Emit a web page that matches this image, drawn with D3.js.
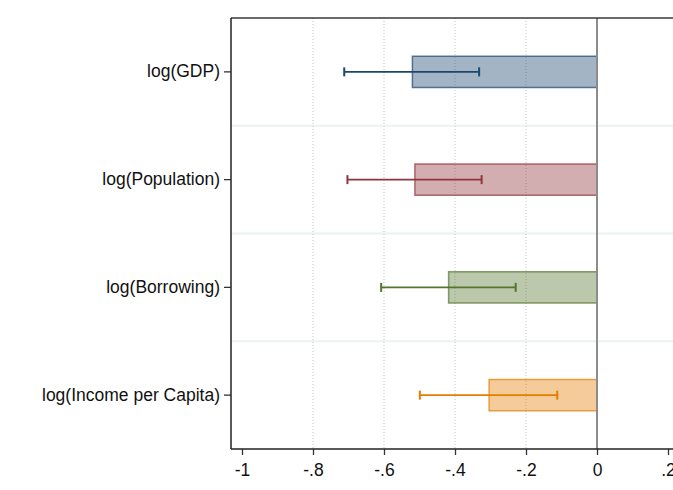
<!DOCTYPE html>
<html>
<head>
<meta charset="utf-8">
<script src="https://cdn.jsdelivr.net/npm/d3@7/dist/d3.min.js"></script>
<style>
  html, body { margin: 0; padding: 0; background: #fff; }
  svg { display: block; font-family: Arial, "Liberation Sans", sans-serif; }
</style>
</head>
<body>
<svg id="chart" width="673" height="490"></svg>
<script>
// Coefficient estimates with 95% confidence intervals
const categories = ["log(GDP)", "log(Population)", "log(Borrowing)", "log(Income per Capita)"];
const estimates  = [-0.520, -0.513, -0.418, -0.304];
const ciLower    = [-0.712, -0.703, -0.608, -0.499];
const ciUpper    = [-0.332, -0.325, -0.229, -0.112];
const colors     = ["#1a476f", "#90353b", "#55752f", "#e37e00"];
const xTicks     = [-1, -0.8, -0.6, -0.4, -0.2, 0, 0.2];
const gridTicks  = [-0.8, -0.6, -0.4, -0.2];

const svg = d3.select("#chart");
const plot = { left: 231, top: 18, bottom: 449, right: 720 };

const x = d3.scaleLinear().domain([-1, 0.2]).range([242, 668]);
const y = d3.scaleBand().domain(categories).range([plot.top, plot.bottom]).padding(0);
const barH = y.bandwidth() * 0.29;

const fmt = v => v === 0 ? "0" : String(v).replace("0.", ".");

// Light separators between categories
svg.append("g").selectAll("line")
  .data(categories.slice(1))
  .join("line")
  .attr("x1", plot.left).attr("x2", plot.right)
  .attr("y1", d => y(d)).attr("y2", d => y(d))
  .attr("stroke", "#eaf2f3").attr("stroke-width", 2);

// Dotted vertical gridlines
svg.append("g").selectAll("line")
  .data(gridTicks)
  .join("line")
  .attr("x1", d => x(d)).attr("x2", d => x(d))
  .attr("y1", plot.top).attr("y2", plot.bottom)
  .attr("stroke", "#c4c4c4").attr("stroke-width", 1)
  .attr("stroke-dasharray", "1,2");

// Bars
const rows = categories.map((c, i) => ({
  cat: c, est: estimates[i], lo: ciLower[i], hi: ciUpper[i], color: colors[i]
}));

svg.append("g").selectAll("rect")
  .data(rows)
  .join("rect")
  .attr("x", d => x(d.est))
  .attr("width", d => x(0) - x(d.est))
  .attr("y", d => y(d.cat) + y.bandwidth() / 2 - barH / 2)
  .attr("height", barH)
  .attr("fill", d => d.color).attr("fill-opacity", 0.4)
  .attr("stroke", d => d.color).attr("stroke-opacity", 0.7)
  .attr("stroke-width", 1.5);

// Confidence intervals
const ci = svg.append("g").selectAll("g")
  .data(rows)
  .join("g")
  .attr("stroke", d => d.color)
  .attr("stroke-width", 1.6);

ci.append("line")
  .attr("x1", d => x(d.lo)).attr("x2", d => x(d.hi))
  .attr("y1", d => y(d.cat) + y.bandwidth() / 2)
  .attr("y2", d => y(d.cat) + y.bandwidth() / 2);
ci.append("line")
  .attr("stroke-width", 2)
  .attr("x1", d => x(d.lo)).attr("x2", d => x(d.lo))
  .attr("y1", d => y(d.cat) + y.bandwidth() / 2 - 4.5)
  .attr("y2", d => y(d.cat) + y.bandwidth() / 2 + 4.5);
ci.append("line")
  .attr("stroke-width", 2)
  .attr("x1", d => x(d.hi)).attr("x2", d => x(d.hi))
  .attr("y1", d => y(d.cat) + y.bandwidth() / 2 - 4.5)
  .attr("y2", d => y(d.cat) + y.bandwidth() / 2 + 4.5);

// Zero reference line
svg.append("line")
  .attr("x1", x(0)).attr("x2", x(0))
  .attr("y1", plot.top).attr("y2", plot.bottom)
  .attr("stroke", "#8c8c8c").attr("stroke-width", 2);

// Top border
svg.append("line")
  .attr("x1", plot.left).attr("x2", plot.right)
  .attr("y1", plot.top).attr("y2", plot.top)
  .attr("stroke", "#3a3a3a").attr("stroke-width", 1.5);

// X axis
const xAxis = svg.append("g")
  .attr("transform", `translate(0,${plot.bottom})`)
  .call(d3.axisBottom(x).tickValues(xTicks).tickFormat(fmt).tickSizeOuter(0).tickSize(6).tickPadding(9));
xAxis.select(".domain").remove();
xAxis.append("line")
  .attr("x1", plot.left).attr("x2", plot.right)
  .attr("stroke", "#222").attr("stroke-width", 1.5);
xAxis.selectAll(".tick line").attr("stroke", "#333").attr("stroke-width", 1.3);
xAxis.selectAll("text").attr("font-size", 17.5).attr("fill", "#111")
  .attr("font-family", "Arial, 'Liberation Sans', sans-serif");

// Y axis
const yAxis = svg.append("g")
  .attr("transform", `translate(${plot.left},0)`)
  .call(d3.axisLeft(y).tickSize(7).tickSizeOuter(0).tickPadding(4));
yAxis.select(".domain").remove();
yAxis.append("line")
  .attr("y1", plot.top).attr("y2", plot.bottom)
  .attr("stroke", "#222").attr("stroke-width", 1.5);
yAxis.selectAll(".tick line").attr("stroke", "#333").attr("stroke-width", 1.3);
yAxis.selectAll("text").attr("font-size", 17.5).attr("fill", "#111")
  .attr("font-family", "Arial, 'Liberation Sans', sans-serif");
</script>
</body>
</html>
